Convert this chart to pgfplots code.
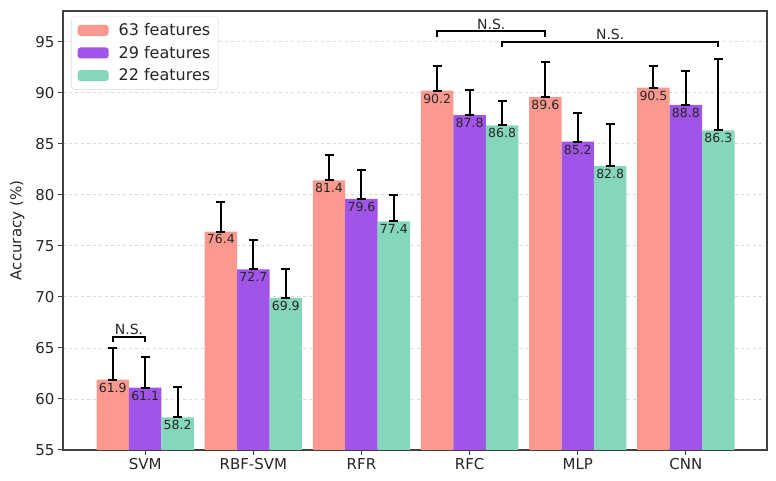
\documentclass[border=0pt]{standalone}
\usepackage{pgfplots}
\pgfplotsset{compat=1.18}
\usepackage{pgfplotstable}
\usepackage{fontspec}
\setmainfont{DejaVu Sans}
\definecolor{cA}{HTML}{FB998E}
\definecolor{cB}{HTML}{A155E8}
\definecolor{cC}{HTML}{85D7BB}

\pgfplotstableread{
x y ep em
-0.3 61.9 3.1 0
0.7 76.4 2.9 0
1.7 81.4 2.5 0
2.7 90.2 2.4 0
3.7 89.6 3.4 0
4.7 90.5 2.1 0
}\tA
\pgfplotstableread{
x y ep em
0 61.1 3.05 0
1 72.7 2.9 0
2 79.6 2.85 0
3 87.8 2.5 0
4 85.2 2.8 0
5 88.8 3.3 0
}\tB
\pgfplotstableread{
x y ep em
0.3 58.2 3.0 0
1.3 69.9 2.8 0
2.3 77.4 2.6 0
3.3 86.8 2.4 0
4.3 82.8 4.1 0
5.3 86.3 7.0 0
}\tC

\pgfplotsset{
  mybar/.style={ybar, bar width=0.3, bar shift=0pt, draw=none, fill=#1,
    nodes near coords={\pgfmathprintnumber[fixed,fixed zerofill,precision=1]{\pgfplotspointmeta}},
    every node near coord/.append style={anchor=north, font=\fontsize{12.5}{14}\selectfont, text=black!85, inner sep=3pt},
    error bars/.cd, y dir=both, y explicit,
    error bar style={black, line width=2pt},
    error mark options={rotate=90, mark size=4.5pt, black, line width=2pt}},
}

\begin{document}
\begin{tikzpicture}
\begin{axis}[
  width=704pt, height=439pt, scale only axis,
  xmin=-0.76, xmax=5.75, ymin=55, ymax=98,
  xtick={0,...,5}, xticklabels={SVM,RBF-SVM,RFR,RFC,MLP,CNN},
  ytick={55,60,...,95},
  ymajorgrids, grid style={dashed, black!15, line width=0.8pt},
  axis line style={black!75, line width=1.2pt},
  tick style={black!75, line width=1pt},
  tick align=outside, major tick length=5pt,
  xtick pos=lower, ytick pos=left,
  ylabel={Accuracy (\%)},
  ylabel style={at={(axis description cs:-0.065,0.5)}, anchor=center, font=\fontsize{15}{18}\selectfont, text=black!85},
  tick label style={font=\fontsize{15}{18}\selectfont, text=black!85},
  /pgf/number format/assume math mode=true,
  legend style={at={(0.012,0.988)}, anchor=north west, font=\fontsize{16}{19}\selectfont,
    draw=black!15, rounded corners=3pt, row sep=5pt, inner xsep=6pt, inner ysep=5pt, text=black!85,
    /tikz/every odd column/.append style={column sep=8pt}},
  legend cell align=left,
  legend image code/.code={\fill[#1, draw=none] (0pt,-5.5pt) rectangle (31pt,5.5pt);},
  clip=false,
]
\addplot[mybar=cA] table[x=x, y=y, y error plus=ep, y error minus=em]{\tA};
\addplot[mybar=cB] table[x=x, y=y, y error plus=ep, y error minus=em]{\tB};
\addplot[mybar=cC] table[x=x, y=y, y error plus=ep, y error minus=em]{\tC};
\legend{63 features,29 features,22 features}

\addplot[black, line width=2pt, no marks, sharp plot, forget plot] coordinates {(-0.3,65.6) (-0.3,66.1) (0,66.1) (0,65.6)};
\addplot[black, line width=2pt, no marks, sharp plot, forget plot] coordinates {(2.7,95.5) (2.7,96.0) (3.7,96.0) (3.7,95.5)};
\addplot[black, line width=2pt, no marks, sharp plot, forget plot] coordinates {(3.3,94.5) (3.3,95.0) (5.3,95.0) (5.3,94.5)};
\node[anchor=south, inner sep=1.5pt, font=\fontsize{14}{16}\selectfont, text=black!85] at (axis cs:-0.15,66.1) {N.S.};
\node[anchor=south, inner sep=1.5pt, font=\fontsize{14}{16}\selectfont, text=black!85] at (axis cs:3.2,96.0) {N.S.};
\node[anchor=south, inner sep=1.5pt, font=\fontsize{14}{16}\selectfont, text=black!85] at (axis cs:4.3,95.0) {N.S.};
\end{axis}
\pgfresetboundingbox
\path ([xshift=-63pt,yshift=-31pt]current axis.south west) rectangle ([xshift=9pt,yshift=11pt]current axis.north east);
\end{tikzpicture}
\end{document}
